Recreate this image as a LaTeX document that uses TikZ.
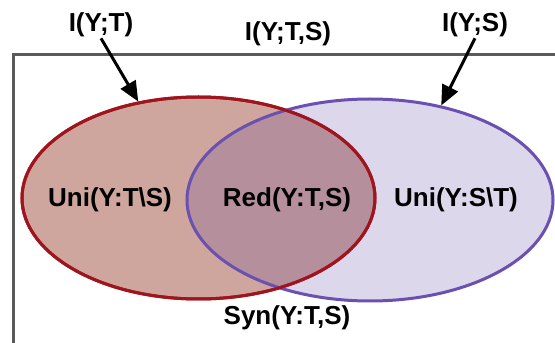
\documentclass[tikz,border=0pt]{standalone}
\usepackage{fontspec}
\setmainfont{Liberation Sans}
\usetikzlibrary{shapes.geometric,arrows.meta}
\definecolor{redfill}{HTML}{CFA69D}
\definecolor{redline}{HTML}{A0141E}
\definecolor{bluefill}{RGB}{80,55,150}
\definecolor{blueline}{HTML}{6A50B0}
\definecolor{framegray}{HTML}{5A5A5A}
\tikzset{
  setnode/.style = {ellipse, inner sep=0pt, line width=3pt},
  set_r/.style = {setnode, draw=redline, fill=redfill, minimum width=353pt, minimum height=202pt},
  set_b/.style = {setnode, draw=blueline, fill=bluefill, fill opacity=0.2, draw opacity=1, minimum width=366pt, minimum height=202pt},
  lbl/.style = {align=center, inner sep=1pt, font=\fontsize{26}{30}\selectfont\bfseries},
  pointer/.style = {line width=3pt, -{Triangle[width=17pt,length=20pt]}}
}

\begin{document}
\begin{tikzpicture}[x=1pt,y=1pt]
	\useasboundingbox (0,0) rectangle (555,343);
	\clip (0,0) rectangle (555,343);
	% frame of I(Y;T,S)
	\draw [framegray, line width=3pt] (13,288) rectangle (575,-20);
	% the two sets
	\node [set_r] (redset) at (198.5,145) {};
	\node [set_b] (blueset) at (370,143) {};
	\draw [redline, line width=3pt] (redset.center) ellipse [x radius=176.5pt, y radius=101pt];
	% atoms
	\node [lbl] (uni_t) at (110,143) {Uni(Y:T\textbackslash S)};
	\node [lbl] (red_ts) at (287,143) {Red(Y:T,S)};
	\node [lbl] (uni_s) at (456,143) {Uni(Y:S\textbackslash T)};
	\node [lbl] (syn_ts) at (287,25) {Syn(Y:T,S)};
	% mutual informations
	\node [lbl] (i_t) at (101,318) {I(Y;T)};
	\node [lbl] (i_ts) at (288,309) {I(Y;T,S)};
	\node [lbl] (i_s) at (475,318) {I(Y;S)};
	\draw [pointer] (i_t.south) -- (redset.122);
	\draw [pointer] (i_s.south) -- (blueset.53);
\end{tikzpicture}
\end{document}
